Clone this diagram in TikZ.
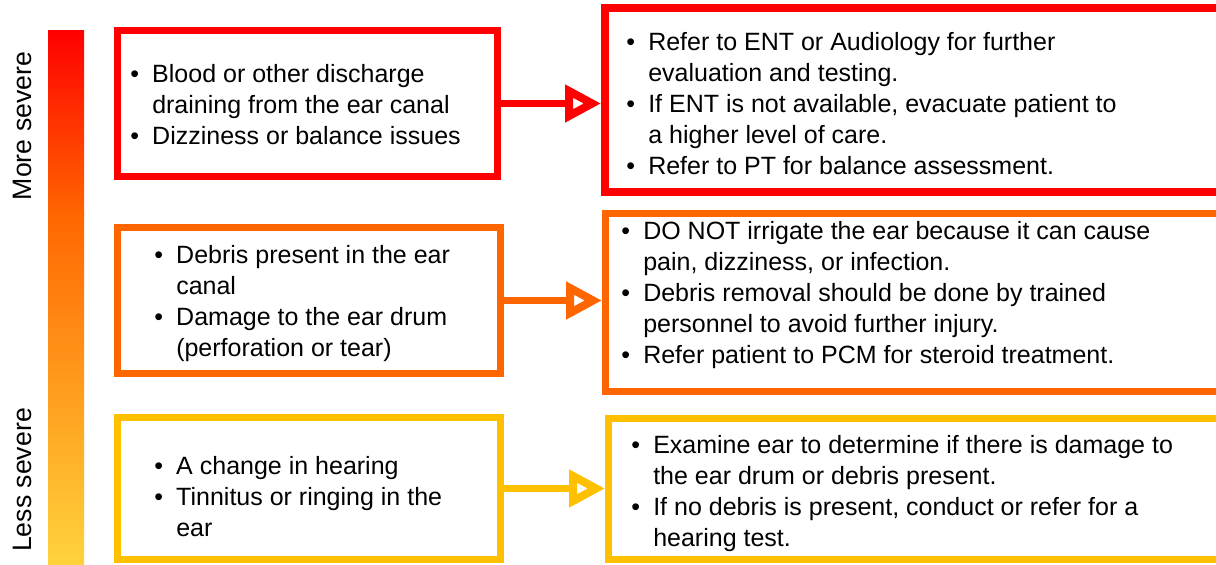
\documentclass[tikz,border=0pt]{standalone}
\usepackage{fontspec}
\setmainfont{Liberation Sans}
\usetikzlibrary{arrows.meta}
\definecolor{cRed}{HTML}{FF0000}
\definecolor{cOrange}{HTML}{FF6600}
\definecolor{cYellow}{HTML}{FFC000}
\definecolor{cBarBot}{HTML}{FFD33C}
\newcommand\bul{\makebox[16.5pt][l]{•}}
\newcommand\ind{\hspace*{16.5pt}}
\begin{document}
\begin{tikzpicture}[x=0.75pt,y=-0.75pt,
  box/.style={draw, line width=5.25pt, inner sep=0pt, rectangle},
  txt/.style={anchor=west, align=left, inner sep=0pt, text=black,
    font=\fontsize{18.75pt}{23.25pt}\selectfont},
  sevlabel/.style={font=\fontsize{20pt}{24pt}\selectfont, rotate=90, inner sep=0pt},
  conn/.style={line width=5.25pt, -{Triangle[open, length=27pt, width=27pt, line width=6pt]}}
]
\useasboundingbox (0,0) rectangle (1216,564);
\clip (0,0) rectangle (1216,564);
\fill[white] (0,0) rectangle (1216,564);

% severity bar
\shade[top color=cRed, bottom color=cOrange] (48,30) rectangle (84,215);
\shade[top color=cOrange, bottom color=cBarBot] (48,214) rectangle (84,564);
\node[sevlabel] (more) at (22,126) {More severe};
\node[sevlabel] (less) at (22,480) {Less severe};

% left boxes
\node[box, draw=cRed, minimum width=285pt, minimum height=109.5pt] (rl) at (307.5,103.5) {};
\node[box, draw=cOrange, minimum width=287.25pt, minimum height=109.5pt] (ol) at (309,300.5) {};
\node[box, draw=cYellow, minimum width=287.25pt, minimum height=106.5pt] (yl) at (309,488.5) {};

% right boxes
\node[box, draw=cRed, line width=6pt, minimum width=468.75pt, minimum height=138pt] (rr) at (917.5,100) {};
\node[box, draw=cOrange, minimum width=468.375pt, minimum height=133.5pt] (or) at (917.75,302.5) {};
\node[box, draw=cYellow, minimum width=466.125pt, minimum height=105.75pt] (yr) at (919.25,489) {};

% texts
\node[txt] (rlt) at (130,104.5) {\bul Blood or other discharge\\ \ind draining from the ear canal\\ \bul Dizziness or balance issues};
\node[txt] (rrt) at (626,103.5) {\bul Refer to ENT or Audiology for further\\ \ind evaluation and testing.\\ \bul If ENT is not available, evacuate patient to\\ \ind a higher level of care.\\ \bul Refer to PT for balance assessment.};
\node[txt] (olt) at (154,304) {\bul Debris present in the ear\\ \ind canal\\ \bul Damage to the ear drum\\ \ind (perforation or tear)};
\node[txt] (ort) at (621,295.5) {\bul DO NOT irrigate the ear because it can cause\\ \ind pain, dizziness, or infection.\\ \bul Debris removal should be done by trained\\ \ind personnel to avoid further injury.\\ \bul Refer patient to PCM for steroid treatment.};
\node[txt] (ylt) at (154,497) {\bul A change in hearing\\ \bul Tinnitus or ringing in the\\ \ind ear};
\node[txt] (yrt) at (631,494) {\bul Examine ear to determine if there is damage to\\ \ind the ear drum or debris present.\\ \bul If no debris is present, conduct or refer for a\\ \ind hearing test.};

% connectors
\draw[conn, draw=cRed] (rl.east) -- (rl.east -| rr.west);
\draw[conn, draw=cOrange] (ol.east) -- (ol.east -| or.west);
\draw[conn, draw=cYellow] (yl.east) -- (yl.east -| yr.west);
\end{tikzpicture}
\end{document}
